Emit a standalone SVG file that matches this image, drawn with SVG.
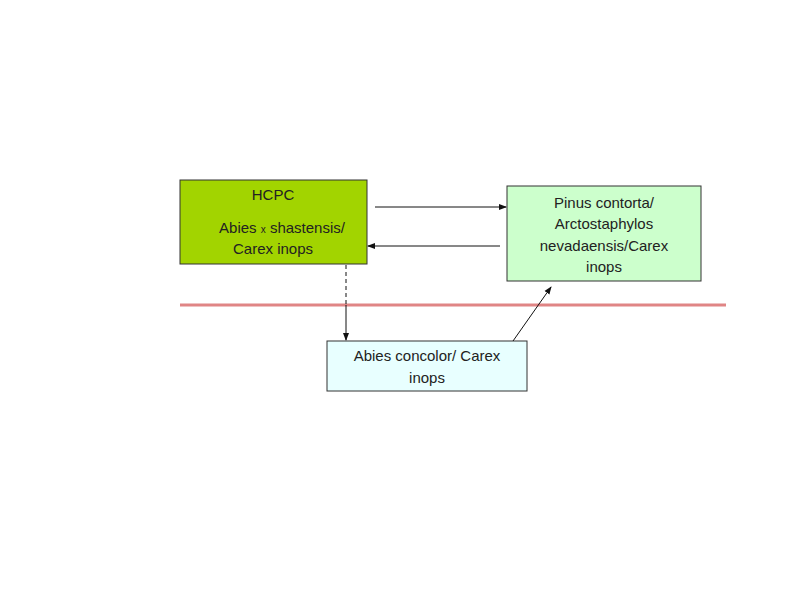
<svg xmlns="http://www.w3.org/2000/svg" width="800" height="600" viewBox="0 0 800 600">
<style>
text{font-family:"Liberation Sans",Arial,sans-serif;font-size:15px;fill:#222;text-anchor:middle}
.box{stroke:#333;stroke-width:1}
.c{stroke:#111;stroke-width:1;fill:none}
</style>
<defs><marker id="a" markerWidth="8" markerHeight="8" refX="7" refY="4" orient="auto" markerUnits="userSpaceOnUse"><path d="M0,1 L8,4 L0,7 Z" fill="#111"/></marker></defs>
<rect width="800" height="600" fill="#fff"/>
<line x1="180" y1="305" x2="726" y2="305" stroke="#e08585" stroke-width="3"/>
<g id="hcpc"><rect class="box" x="180" y="180" width="187" height="84" fill="#a2d400"/>
<text x="273" y="200">HCPC</text>
<text x="282" y="233">Abies <tspan font-size="10">x</tspan> shastensis/</text>
<text x="273" y="254">Carex inops</text></g>
<g id="pinus"><rect class="box" x="507" y="186" width="194" height="95" fill="#ccffcc"/>
<text x="604" y="208">Pinus contorta/</text>
<text x="604" y="229">Arctostaphylos</text>
<text x="604" y="251">nevadaensis/Carex</text>
<text x="604" y="272">inops</text></g>
<g id="concolor"><rect class="box" x="327" y="341" width="200" height="50" fill="#e8ffff"/>
<text x="427" y="361">Abies concolor/ Carex</text>
<text x="427" y="383">inops</text></g>
<g id="connectors">
<line class="c" x1="375" y1="207" x2="506" y2="207" marker-end="url(#a)"/>
<line class="c" x1="500" y1="246" x2="368" y2="246" marker-end="url(#a)"/>
<line class="c" x1="346" y1="265" x2="346" y2="305" stroke-dasharray="4,3"/>
<line class="c" x1="346" y1="305" x2="346" y2="340" marker-end="url(#a)"/>
<line class="c" x1="513" y1="341" x2="551" y2="287" marker-end="url(#a)"/>
</g>
</svg>
